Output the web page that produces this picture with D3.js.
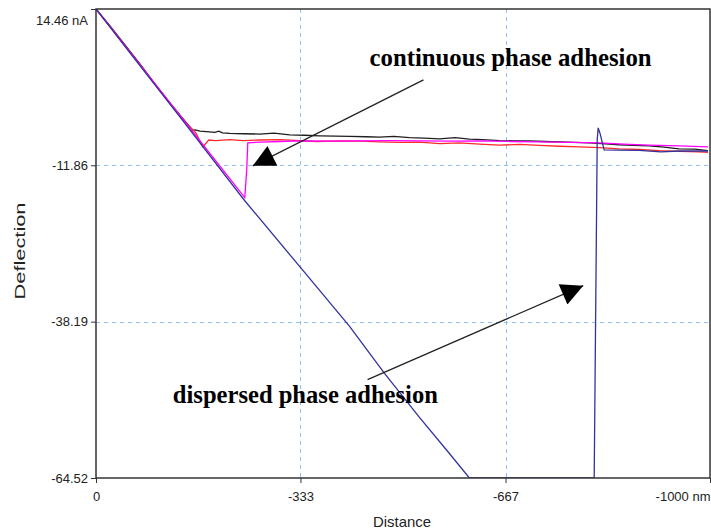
<!DOCTYPE html>
<html>
<head>
<meta charset="utf-8">
<script src="https://cdn.jsdelivr.net/npm/d3@7"></script>
<style>
  body { margin: 0; background: #fff; }
  svg { display: block; font-family: "Liberation Sans", Arial, sans-serif; }
</style>
</head>
<body>
<svg></svg>
<script>
// force curve data: distance (nm) and deflection (nA)
let blackDist = [0, -22.8, -47.2, -71.5, -95.9, -120.3, -144.7, -157.7, -162, -169.1, -180, -193.5, -200, -206, -217.9, -240, -266.7, -290, -315.4, -340, -364.2, -390, -413.0, -440, -461.8, -485, -510.5, -535, -559.3, -585, -608.1, -630, -656.9, -680, -705.7, -730, -754.5, -780, -803.2, -830, -852.0, -875, -900.8, -925, -949.6, -975, -996.7]
let blackDefl = [14.46, 11.6, 8.4, 5.21, 1.84, -1.35, -4.38, -6.0, -5.9, -6.1, -6.2, -6.3, -6.1, -6.4, -6.5, -6.55, -6.6, -6.45, -6.75, -6.8, -6.9, -6.95, -7.0, -7.05, -7.1, -7.0, -7.2, -7.3, -7.4, -7.2, -7.45, -7.55, -7.7, -7.75, -7.75, -7.85, -7.9, -8.0, -8.1, -8.25, -8.4, -8.5, -8.6, -8.8, -9.1, -9.15, -9.4]

let redDist = [0, -22.8, -47.2, -71.5, -95.9, -120.3, -144.7, -162.6, -174.0, -183.7, -195, -217.9, -240, -266.7, -300, -331.7, -360, -396.8, -430, -461.8, -495, -526.8, -560, -591.9, -625, -656.9, -690, -722.0, -755, -787.0, -820, -852.0, -885, -917.1, -950, -982.1, -996.7]
let redDefl = [14.46, 11.5, 8.3, 5.1, 1.8, -1.4, -4.5, -6.4, -8.75, -7.6, -7.7, -7.55, -7.7, -7.6, -7.55, -7.7, -7.85, -7.75, -7.8, -7.9, -8.0, -7.95, -8.2, -8.1, -8.3, -8.45, -8.35, -8.5, -8.65, -8.75, -8.9, -9.1, -9.2, -9.4, -9.5, -9.6, -9.7]

let magentaDist = [0, -87.8, -180, -242.3, -245.5, -247.2, -266.7, -300, -331.7, -380, -429.3, -480, -526.8, -575, -624.4, -675, -722.0, -770, -819.5, -860, -900.8, -950, -996.7]
let magentaDefl = [14.46, 2.94, -9.16, -17.3, -12.6, -8.08, -7.95, -7.85, -7.75, -7.8, -7.75, -7.7, -7.75, -7.8, -7.75, -7.85, -7.9, -8.0, -8.1, -8.3, -8.45, -8.6, -8.75]

let blueDist = [0, -55.3, -136.6, -242.3, -333.3, -413.0, -469.9, -526.8, -575.6, -608.1, -811.4, -816.3, -817.9, -821.1, -827.6, -850, -884.5, -920, -949.6, -996.7]
let blueDefl = [14.46, 7.06, -3.7, -17.83, -29.1, -39.0, -46.9, -54.3, -60.4, -64.52, -64.52, -7.57, -5.56, -6.56, -9.26, -9.3, -9.35, -9.6, -9.45, -9.45]

let xTicks = [0, -333, -667, -1000]
let xTickLabels = ['0', '-333', '-667', '-1000 nm']
let yTicks = [14.46, -11.86, -38.19, -64.52]
let yTickLabels = ['14.46 nA', '-11.86', '-38.19', '-64.52']
let gridX = [-333, -667]
let gridY = [-11.86, -38.19]

// annotation text and arrows (distance, deflection)
let noteText = ['continuous phase adhesion', 'dispersed phase adhesion']
let noteAt = [[-445.5, 4.87], [-125.2, -51.81]]
let arrowFrom = [[-533.3, 2.52], [-442.3, -47.94]]
let arrowTo = [[-255.3, -11.95], [-793.5, -32.13]]

let width = 711
let height = 529
let padLeft = 96
let padRight = 710
let padTop = 9
let padBottom = 478

let svg = d3.select('svg')
    .attr('width', width)
    .attr('height', height)

let xScale = d3.scaleLinear().domain([0, -1000]).range([padLeft, padRight])
let yScale = d3.scaleLinear().domain([-64.52, 14.46]).range([padBottom, padTop])

// grid lines
svg.append('g')
    .selectAll('line')
    .data(gridX)
    .enter()
    .append('line')
    .attr('x1', d => Math.round(xScale(d)) + 0.5).attr('x2', d => Math.round(xScale(d)) + 0.5)
    .attr('y1', padTop).attr('y2', padBottom)
    .attr('stroke', '#8fbff5')
    .attr('stroke-dasharray', '4,4')

svg.append('g')
    .selectAll('line')
    .data(gridY)
    .enter()
    .append('line')
    .attr('x1', padLeft).attr('x2', padRight)
    .attr('y1', d => Math.round(yScale(d)) + 0.5).attr('y2', d => Math.round(yScale(d)) + 0.5)
    .attr('stroke', '#8fbff5')
    .attr('stroke-dasharray', '4,4')

svg.append('clipPath')
    .attr('id', 'plot-clip')
    .append('rect')
    .attr('x', padLeft).attr('y', padTop)
    .attr('width', padRight - padLeft).attr('height', padBottom - padTop)

let line = d3.line()
    .x(d => xScale(d[0]))
    .y(d => yScale(d[1]))

let series = [
    [blackDist, blackDefl, '#1e1e1e'],
    [redDist, redDefl, '#ff2a2a'],
    [magentaDist, magentaDefl, '#ff00ff'],
    [blueDist, blueDefl, '#32329c']
]

let curves = svg.append('g').attr('clip-path', 'url(#plot-clip)')
series.forEach(s => {
    curves.append('path')
        .datum(d3.zip(s[0], s[1]))
        .attr('d', line)
        .attr('fill', 'none')
        .attr('stroke', s[2])
        .attr('stroke-width', 1.3)
})

// frame
svg.append('rect')
    .attr('x', padLeft).attr('y', padTop)
    .attr('width', padRight - padLeft).attr('height', padBottom - padTop)
    .attr('fill', 'none')
    .attr('stroke', '#333')
    .attr('stroke-width', 1.5)

// axes
let yAxis = d3.axisLeft(yScale)
    .tickValues(yTicks)
    .tickFormat((d, i) => yTickLabels[i])
    .tickSize(5)
    .tickPadding(3)

let yG = svg.append('g')
    .attr('transform', `translate(${padLeft}, 0)`)
    .call(yAxis)
yG.select('.domain').remove()
yG.selectAll('line').attr('stroke', '#333')
yG.selectAll('text')
    .attr('font-size', 13)
    .attr('font-family', '"Liberation Sans", Arial, sans-serif')
    .attr('fill', '#222')
    .attr('dy', (d, i) => i == 0 ? '1.2em' : '0.32em')

let xAxis = d3.axisBottom(xScale)
    .tickValues(xTicks)
    .tickFormat((d, i) => xTickLabels[i])
    .tickSize(5)
    .tickPadding(9)

let xG = svg.append('g')
    .attr('transform', `translate(0, ${padBottom})`)
    .call(xAxis)
xG.select('.domain').remove()
xG.selectAll('line').attr('stroke', '#333')
xG.selectAll('text')
    .attr('font-size', 13)
    .attr('font-family', '"Liberation Sans", Arial, sans-serif')
    .attr('fill', '#222')
    .attr('text-anchor', (d, i) => i == xTicks.length - 1 ? 'end' : 'middle')

// axis titles
svg.append('text')
    .attr('x', 402).attr('y', 527)
    .attr('text-anchor', 'middle')
    .attr('font-size', 15)
    .attr('fill', '#222')
    .attr('textLength', 58)
    .attr('lengthAdjust', 'spacingAndGlyphs')
    .text('Distance')

svg.append('text')
    .attr('transform', 'translate(25, 251) rotate(-90)')
    .attr('text-anchor', 'middle')
    .attr('font-size', 15)
    .attr('fill', '#222')
    .attr('textLength', 97)
    .attr('lengthAdjust', 'spacingAndGlyphs')
    .text('Deflection')

// annotations
let noteLen = [282, 265]
svg.append('g')
    .selectAll('text')
    .data(noteText)
    .enter()
    .append('text')
    .attr('x', (d, i) => xScale(noteAt[i][0]))
    .attr('y', (d, i) => yScale(noteAt[i][1]))
    .attr('font-family', '"Liberation Serif", "Times New Roman", serif')
    .attr('font-weight', 'bold')
    .attr('font-size', 25)
    .attr('fill', '#000')
    .attr('textLength', (d, i) => noteLen[i])
    .attr('lengthAdjust', 'spacingAndGlyphs')
    .text(d => d)

svg.append('defs')
    .append('marker')
    .attr('id', 'head')
    .attr('viewBox', '0 0 10 10')
    .attr('refX', 10).attr('refY', 5)
    .attr('markerUnits', 'userSpaceOnUse')
    .attr('markerWidth', 25).attr('markerHeight', 22)
    .attr('orient', 'auto')
    .append('path')
    .attr('d', 'M0,0 L10,5 L0,10 Z')
    .attr('fill', '#000')

svg.append('g')
    .selectAll('line')
    .data(arrowFrom)
    .enter()
    .append('line')
    .attr('x1', d => xScale(d[0]))
    .attr('y1', d => yScale(d[1]))
    .attr('x2', (d, i) => xScale(arrowTo[i][0]))
    .attr('y2', (d, i) => yScale(arrowTo[i][1]))
    .attr('stroke', '#222')
    .attr('stroke-width', 1.3)
    .attr('marker-end', 'url(#head)')
</script>
</body>
</html>
